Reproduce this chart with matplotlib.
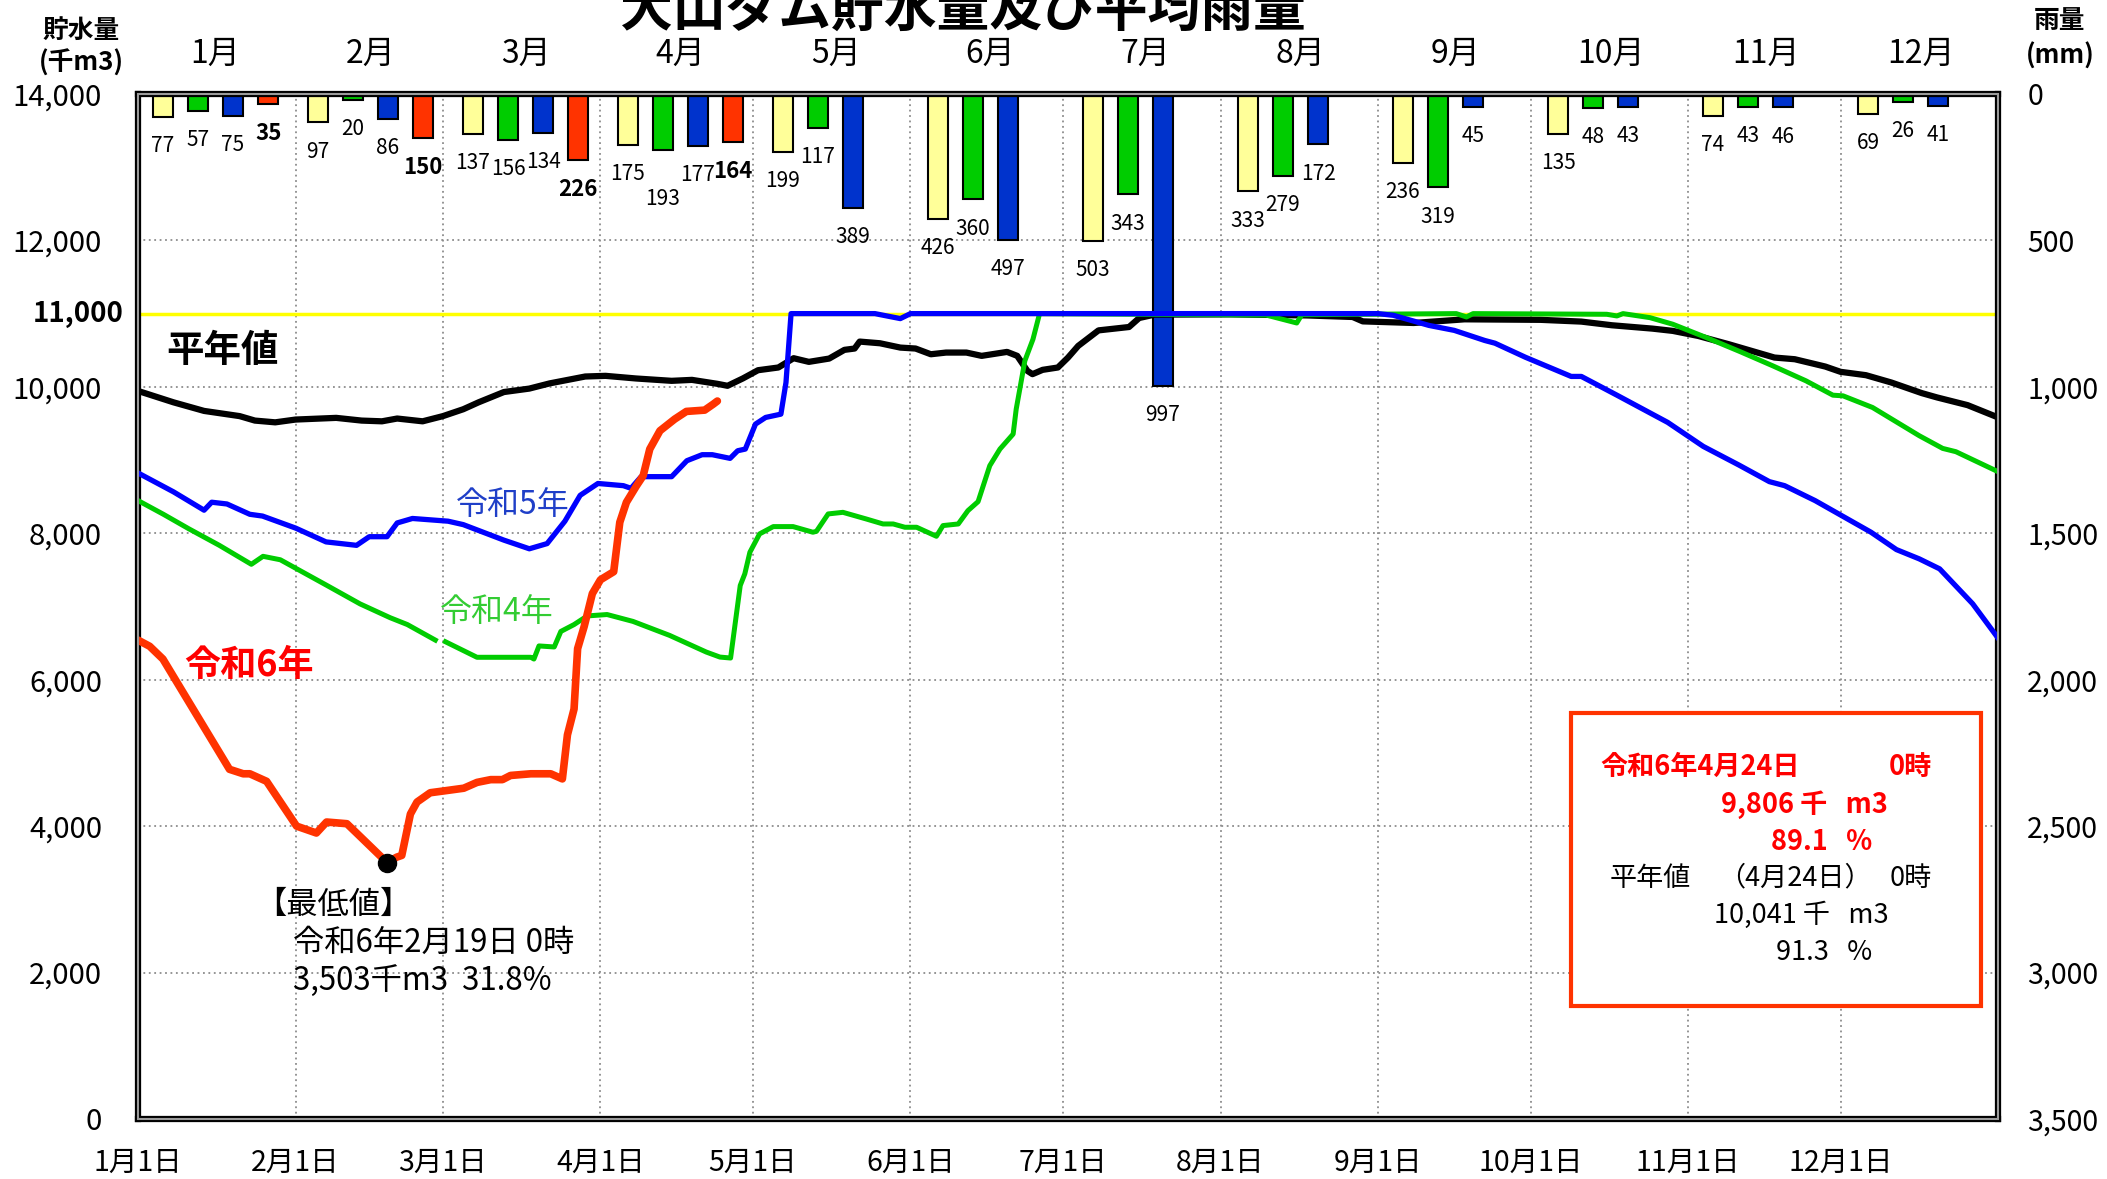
import matplotlib
matplotlib.use('Agg')
import matplotlib.pyplot as plt
import matplotlib.transforms as mtrans
from matplotlib.patches import Rectangle
import numpy as np

plt.rcParams['font.family'] = ['Noto Sans CJK JP', 'DejaVu Sans']

# ---- データ ----
month_names = ['1月', '2月', '3月', '4月', '5月', '6月',
               '7月', '8月', '9月', '10月', '11月', '12月']
month_start_day = [0, 31, 60, 91, 121, 152, 182, 213, 244, 274, 305, 335]
month_tick_labels = ['1月1日', '2月1日', '3月1日', '4月1日', '5月1日', '6月1日',
                     '7月1日', '8月1日', '9月1日', '10月1日', '11月1日', '12月1日']
year_days = 366

# 月雨量 (mm)
rain_heinen = [77, 97, 137, 175, 199, 426, 503, 333, 236, 135, 74, 69]
rain_r4 = [57, 20, 156, 193, 117, 360, 343, 279, 319, 48, 43, 26]
rain_r5 = [75, 86, 134, 177, 389, 497, 997, 172, 45, 43, 46, 41]
rain_r6 = [35, 150, 226, 164]

# 貯水量 (千m3)  日 = 1月1日からの日数
heinen_day = [0, 7, 13, 20, 23, 27, 31, 39, 44, 48, 51, 56, 60, 64, 67, 72, 77, 81,
              88, 92, 98, 105, 109, 114, 116, 119, 122, 126, 129, 132, 136, 139,
              141, 142, 146, 150, 153, 156, 159, 163, 166, 171, 173, 175, 176, 178,
              181, 183, 185, 189, 195, 197, 200, 215, 230, 239, 241, 251, 261, 276,
              284, 290, 298, 302, 307, 313, 322, 326, 332, 335, 340, 345, 351, 354,
              360, 366]
heinen_val = [9944, 9788, 9671, 9600, 9539, 9515, 9553, 9576, 9539, 9529, 9567, 9529,
              9600, 9694, 9788, 9929, 9976, 10047, 10141, 10150, 10114, 10082, 10095,
              10041, 10014, 10114, 10227, 10264, 10391, 10341, 10386, 10505, 10523,
              10618, 10595, 10536, 10523, 10445, 10468, 10468, 10423, 10477, 10423,
              10218, 10173, 10232, 10264, 10400, 10559, 10771, 10817, 10940, 10986,
              10990, 10975, 10954, 10894, 10872, 10922, 10915, 10891, 10841, 10795,
              10764, 10695, 10582, 10400, 10377, 10277, 10205, 10159, 10059, 9914,
              9855, 9750, 9582]

r5_day = [0, 7, 13, 14.5, 17.5, 22, 24.5, 31, 37, 43, 45.5, 49, 51, 54, 61, 64, 72,
          77, 80.5, 84, 87, 90.5, 95.5, 97, 99, 105, 108, 111, 113, 116.5, 118, 119.5,
          121.5, 123.5, 126.5, 127.5, 128.5, 145, 150, 152, 244, 247, 254, 259, 265,
          267, 273, 282, 284, 291, 301, 308, 315, 321, 324, 330, 341, 346, 350.5,
          354.5, 361, 366]
r5_val = [8824, 8565, 8315, 8424, 8400, 8259, 8235, 8071, 7882, 7835, 7953, 7953,
          8141, 8202, 8165, 8118, 7906, 7788, 7859, 8165, 8518, 8680, 8650, 8614,
          8773, 8773, 8991, 9073, 9073, 9023, 9127, 9150, 9491, 9582, 9627, 10059,
          11000, 11000, 10932, 11000, 11000, 10977, 10839, 10771, 10633, 10596, 10404,
          10142, 10142, 9886, 9514, 9186, 8932, 8705, 8650, 8446, 8014, 7777, 7650,
          7514, 7037, 6568]

r4_day = [0, 5, 10, 16, 22.3, 24.6, 28, 37, 43.7, 49.6, 53, 58.5, 59, 60.5, 66.7,
          77.3, 77.9, 78.9, 81.9, 83.2, 85.8, 88.4, 92.3, 97.4, 104.6, 111.8, 114.5,
          116.6, 118.5, 119.4, 120.4, 122.3, 125, 128.9, 132.8, 133.5, 135.8, 138.7,
          143.3, 146.6, 148.6, 150.9, 153.2, 157.1, 158.4, 161.4, 163.3, 165.3, 167.6,
          169.6, 172.2, 172.8, 173.8, 174.5, 176.1, 177.4, 222, 228, 229, 259.4,
          261.4, 262.7, 289, 291, 292.2, 297.5, 302, 308.6, 315.2, 321.7, 328.2,
          333.5, 335.5, 341.3, 350.5, 355.1, 357.7, 366]
r4_val = [8447, 8259, 8061, 7835, 7576, 7685, 7638, 7294, 7035, 6847, 6753, 6541,
          np.nan, 6518, 6306, 6306, 6282, 6461, 6447, 6659, 6753, 6871, 6890, 6796,
          6605, 6378, 6309, 6296, 7287, 7446, 7741, 7991, 8091, 8091, 8014, 8027,
          8264, 8286, 8195, 8127, 8127, 8082, 8082, 7959, 8105, 8127, 8309, 8432,
          8923, 9150, 9355, 9695, 10082, 10355, 10650, 11000, 10980, 10872, 10985,
          11000, 10954, 11000, 10991, 10968, 11000, 10945, 10855, 10673, 10482,
          10286, 10082, 9886, 9877, 9718, 9332, 9159, 9114, 8841]

r6_day = [0, 2.3, 4.9, 18, 20.7, 22, 25.3, 31.2, 35.1, 37.1, 41.1, 43, 49, 50.9,
          51.9, 53.6, 54.9, 57.5, 60.1, 64.1, 66.7, 69.4, 71.7, 73.3, 77.3, 81.2,
          83.5, 84.5, 85.8, 86.5, 87.8, 89.4, 91, 93.6, 94.8, 96.1, 98.1, 99.4,
          100.7, 102.7, 105.6, 107.9, 111.5, 113.2, 114]
r6_val = [6541, 6456, 6282, 4776, 4715, 4715, 4612, 4000, 3906, 4056, 4033, 3906,
          3503, 3576, 3600, 4165, 4329, 4456, 4480, 4518, 4597, 4635, 4635, 4692,
          4715, 4715, 4645, 5247, 5600, 6424, 6729, 7176, 7365, 7475, 8150, 8423,
          8650, 8786, 9150, 9400, 9559, 9664, 9682, 9764, 9806]

min_day = 49
min_val = 3503
full_level = 11000

# ---- 図 ----
fig = plt.figure(figsize=(21.07, 11.79), dpi=100)
ax = fig.add_axes([0.0655, 0.0509, 0.8828, 0.8694])
ax2 = ax.twinx()
ax.set_zorder(ax2.get_zorder() + 1)
ax.patch.set_visible(False)

# 雨量（右軸・上から下へ）
ax2.set_ylim(3500, 0)
ax2.set_yticks(range(0, 3501, 500))
ax2.set_yticklabels([f'{v:,}' for v in range(0, 3501, 500)], fontsize=20.5, ha='left')
ax2.tick_params(axis='y', length=0, pad=21)
ax2.grid(axis='y', color='#8c8c8c', linestyle=(0, (1, 2)), linewidth=1.3)
ax2.set_axisbelow(True)
for d in month_start_day[1:]:
    ax2.axvline(d, color='#8c8c8c', linestyle=(0, (1, 2)), linewidth=1.3, zorder=0.5)
for s in ax2.spines.values():
    s.set_visible(False)

slot = year_days / 12
bar_w = 0.13 * slot
bar_sets = [(rain_heinen, '#FFFF99', False), (rain_r4, '#00CC00', False),
            (rain_r5, '#0033CC', False), (rain_r6, '#FF3300', True)]
# 重なるラベルを少し下へ（系列, 月）
label_drop = {(1, 3): 14}
for k, (vals, col, bold) in enumerate(bar_sets):
    xs = [(m + 0.161 + 0.226 * k) * slot for m in range(len(vals))]
    ax2.bar(xs, vals, width=bar_w, bottom=0, color=col, edgecolor='black',
            linewidth=1.5, zorder=2)
    for m, (x, v) in enumerate(zip(xs, vals)):
        dy = -21 - label_drop.get((k, m), 0)
        ax2.annotate(f'{v}', (x, v), xytext=(0, dy), textcoords='offset points',
                     ha='center', va='center', fontsize=16 if bold else 15,
                     fontweight='bold' if bold else 'normal')

# 貯水量（左軸）
ax.set_xlim(0, year_days)
ax.set_ylim(0, 14000)
ax.axhline(full_level, color='#FFFF00', linewidth=2.5, zorder=1)
ax.plot(heinen_day, heinen_val, color='black', linewidth=4.5, zorder=3)
ax.plot(r4_day, r4_val, color='#00CC00', linewidth=3.6, zorder=4)
ax.plot(r5_day, r5_val, color='#0000FF', linewidth=3.8, zorder=5)
ax.plot(r6_day, r6_val, color='#FF3300', linewidth=5.5, zorder=6,
        solid_capstyle='round')
ax.plot([min_day], [min_val], 'o', color='black', markersize=13, zorder=7)

ax.set_xticks(month_start_day)
ax.set_xticklabels(month_tick_labels, fontsize=20.5)
ax.set_yticks(range(0, 14001, 2000))
ax.set_yticklabels([f'{v:,}' for v in range(0, 14001, 2000)], fontsize=21)
ax.tick_params(axis='x', length=0, pad=21)
ax.tick_params(axis='y', length=0, pad=26)

for s in ax.spines.values():
    s.set_linewidth(4.5)
    s.set_color('black')
ax.add_patch(Rectangle((0, 0), 1, 1, transform=ax.transAxes, fill=False,
                       edgecolor='#9a9a9a', linewidth=1.5, zorder=10, clip_on=False))

# 11,000 ラベル
blend_y = mtrans.blended_transform_factory(ax.transAxes, ax.transData)
ax.text(-0.0075, full_level, '11,000', transform=blend_y, ha='right', va='center',
        fontsize=20, fontweight='bold')

# 上部の月名
blend_x = mtrans.blended_transform_factory(ax.transData, ax.transAxes)
for m, name in enumerate(month_names):
    ax.text((m + 0.5) * slot, 1.039, name, transform=blend_x,
            ha='center', va='center', fontsize=23)

# タイトル・軸名
fig.text(0.457, 0.978, '大山ダム貯水量及び平均雨量', ha='center', va='baseline',
         fontsize=38, fontweight='bold')
fig.text(81 / 2107, 1 - 30 / 1179, '貯水量', ha='center', va='center',
         fontsize=18.5, fontweight='bold')
fig.text(81 / 2107, 1 - 63 / 1179, '(千m3)', ha='center', va='center',
         fontsize=18.5, fontweight='bold')
fig.text(2060 / 2107, 1 - 20 / 1179, '雨量', ha='center', va='center',
         fontsize=18.5, fontweight='bold')
fig.text(2060 / 2107, 1 - 56 / 1179, '(mm)', ha='center', va='center',
         fontsize=18.5, fontweight='bold')

# 系列名
ax.text(0.0452, 0.750, '平年値', transform=ax.transAxes, ha='center', va='center',
        fontsize=27, fontweight='bold', color='black')
ax.text(0.2016, 0.599, '令和5年', transform=ax.transAxes, ha='center', va='center',
        fontsize=23, color='#1F3FC8')
ax.text(0.193, 0.4946, '令和4年', transform=ax.transAxes, ha='center', va='center',
        fontsize=23, color='#33CC33')
ax.text(0.0597, 0.442, '令和6年', transform=ax.transAxes, ha='center', va='center',
        fontsize=26, fontweight='bold', color='#FF0000')

# 最低値
ax.text(0.063, 0.2088, '【最低値】', transform=ax.transAxes, ha='left', va='center',
        fontsize=22.5)
ax.text(0.0833, 0.1717, '令和6年2月19日 0時', transform=ax.transAxes, ha='left',
        va='center', fontsize=22.5)
ax.text(0.0833, 0.1337, '3,503千m3  31.8%', transform=ax.transAxes, ha='left',
        va='center', fontsize=22.5)

# 情報ボックス
ax.add_patch(Rectangle((0.7704, 0.1102), 0.2205, 0.2859, transform=ax.transAxes,
                       fill=True, facecolor='white', edgecolor='#FF3300',
                       linewidth=3, zorder=8))
bs = 19.5
red = '#FF0000'
box_texts = [
    (0.786, 0.3434, '令和6年4月24日', 'left', red, 'bold'),
    (0.9645, 0.3434, '0時', 'right', red, 'bold'),
    (0.9409, 0.3063, '9,806 千   m3', 'right', red, 'bold'),
    (0.9323, 0.2702, '89.1   %', 'right', red, 'bold'),
    (0.7914, 0.2351, '平年値', 'left', 'black', 'normal'),
    (0.8909, 0.2351, '（4月24日）', 'center', 'black', 'normal'),
    (0.9645, 0.2351, '0時', 'right', 'black', 'normal'),
    (0.9409, 0.199, '10,041 千   m3', 'right', 'black', 'normal'),
    (0.9323, 0.1629, '91.3   %', 'right', 'black', 'normal'),
]
for x, y, s, ha, col, wt in box_texts:
    ax.text(x, y, s, transform=ax.transAxes, ha=ha, va='center', fontsize=bs,
            color=col, fontweight=wt, zorder=9)

fig.savefig('out.png', dpi=100, facecolor='white')
